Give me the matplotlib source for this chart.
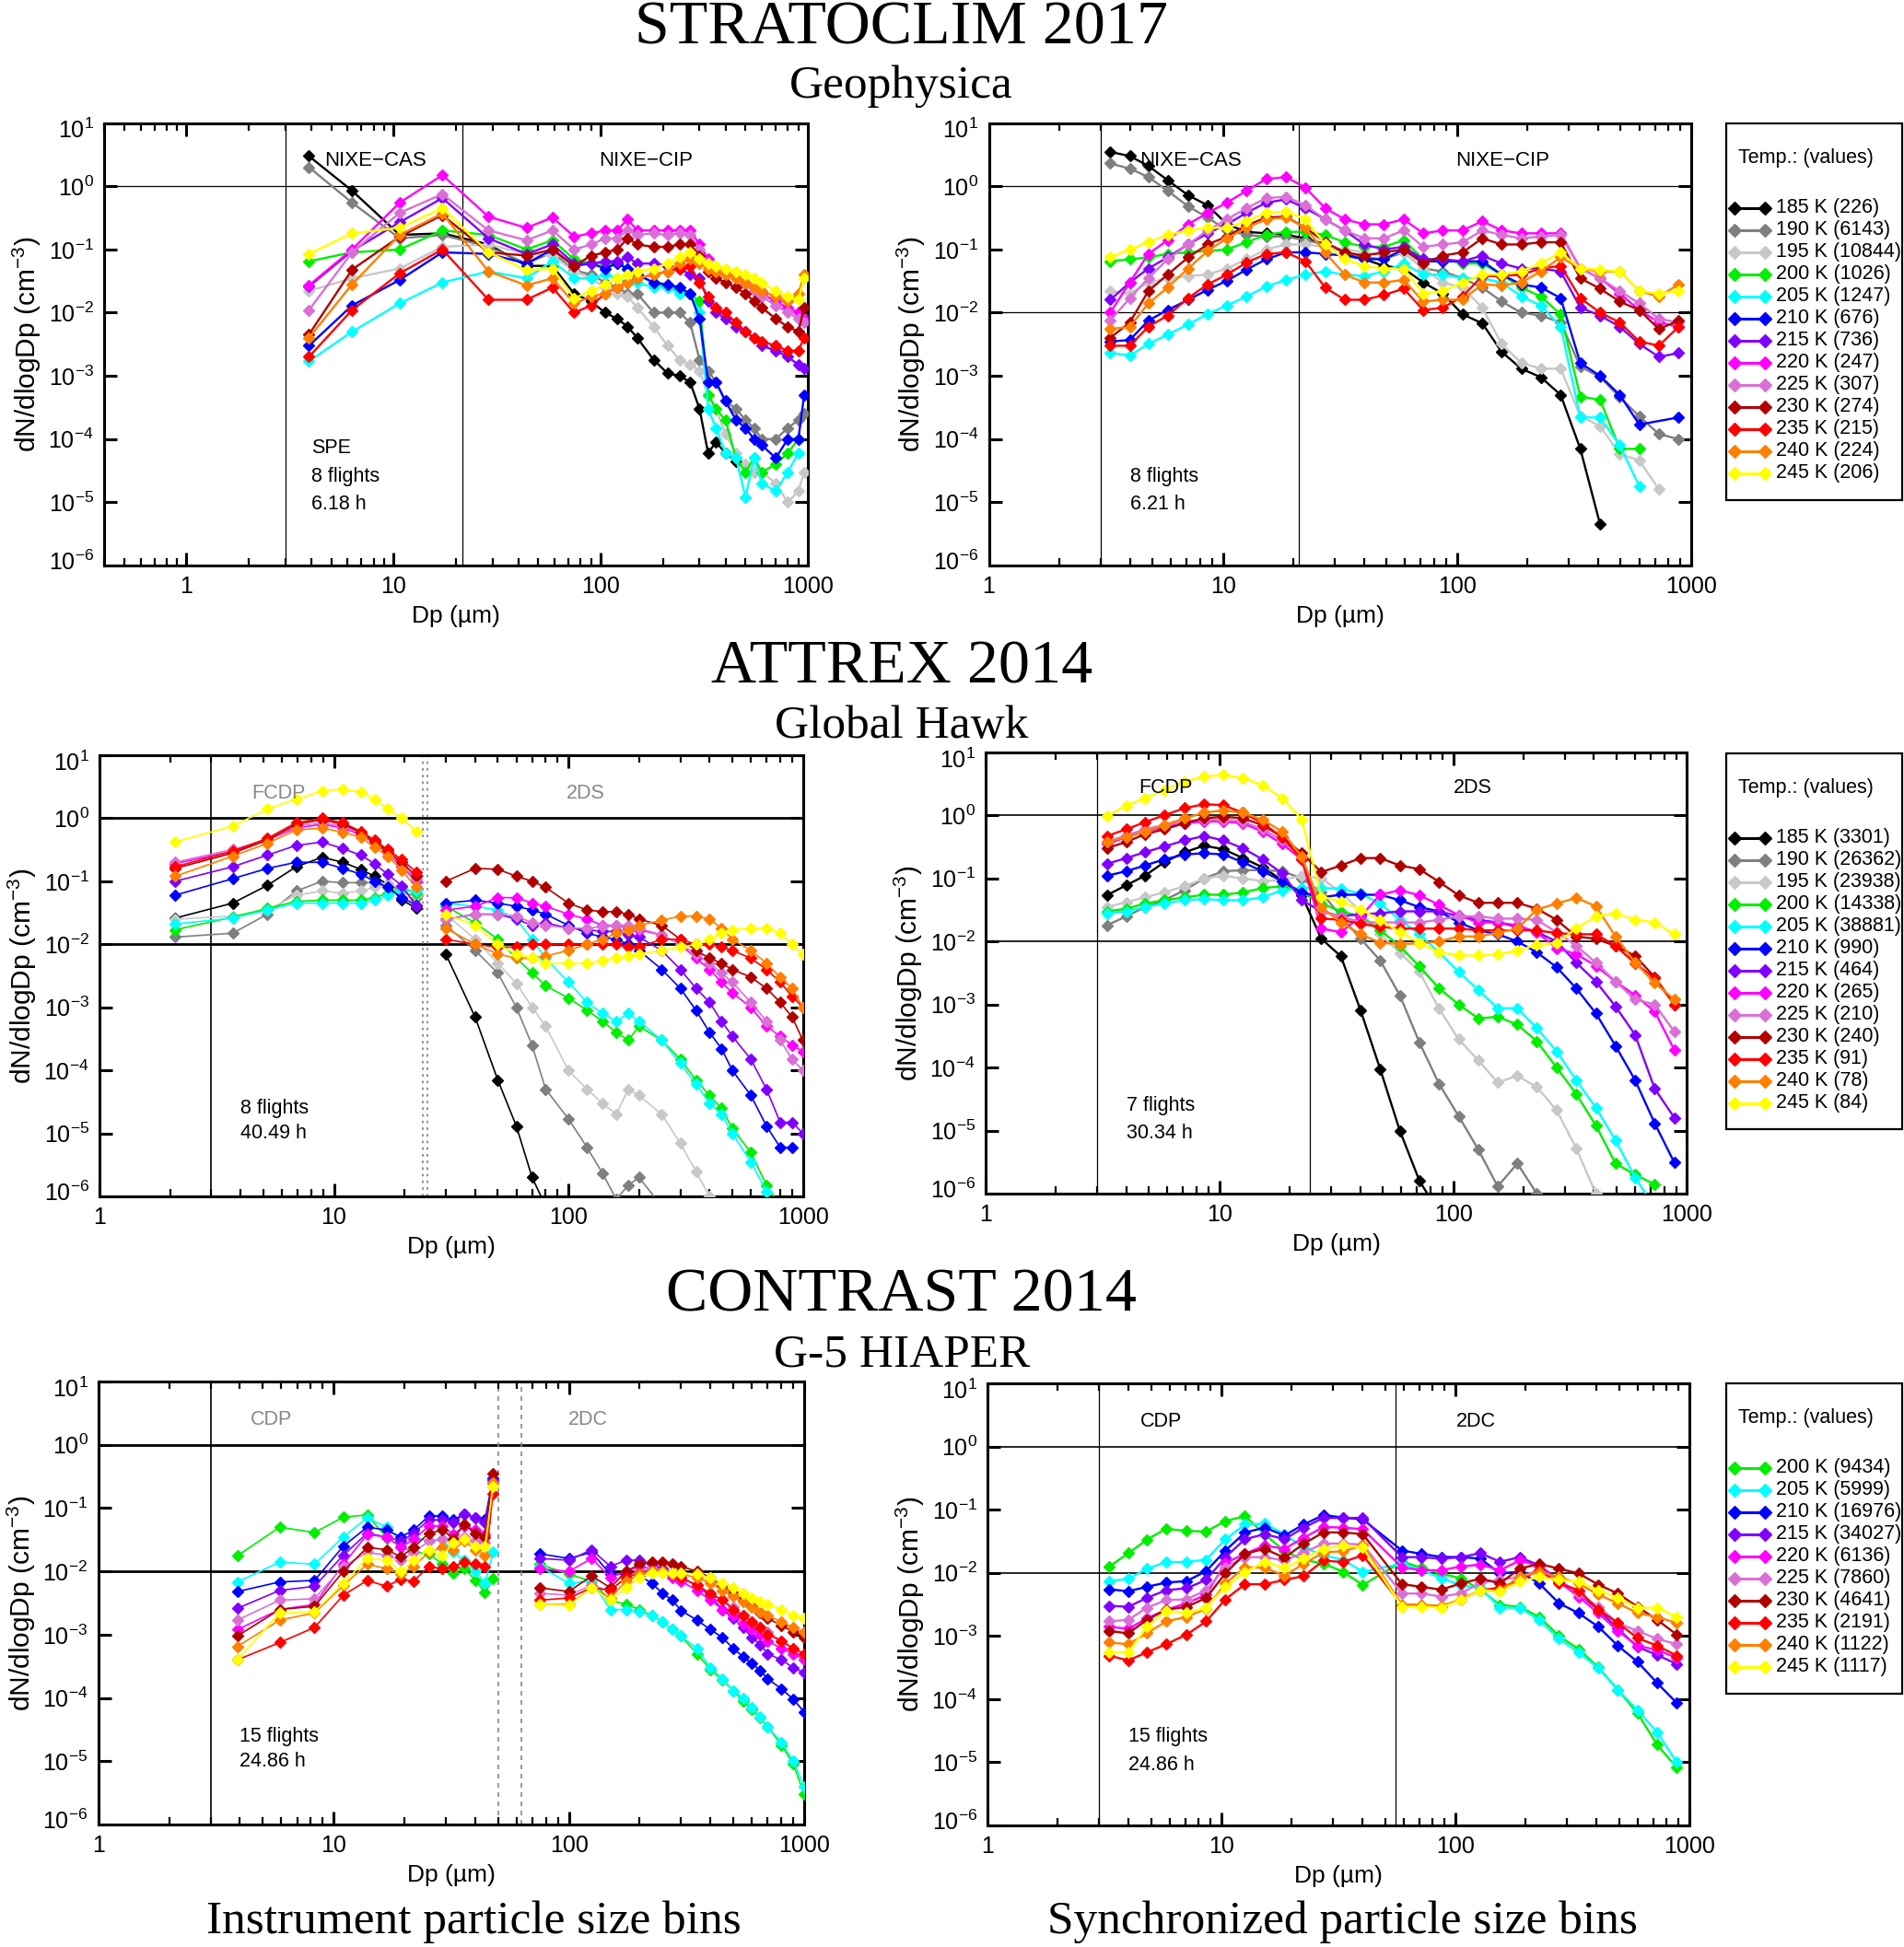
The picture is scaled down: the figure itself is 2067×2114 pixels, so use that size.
import numpy as np
import matplotlib
matplotlib.use("Agg")
import matplotlib.pyplot as plt
from matplotlib.ticker import (FixedLocator, LogLocator, NullLocator, NullFormatter,
                               FuncFormatter, LogFormatterSciNotation)
from matplotlib.patches import Rectangle
from matplotlib.lines import Line2D
from matplotlib.transforms import ScaledTranslation

plt.rcParams["font.family"] = ["Liberation Sans", "DejaVu Sans"]
plt.rcParams["mathtext.fontset"] = "custom"
plt.rcParams["mathtext.rm"] = "Liberation Sans"
plt.rcParams["mathtext.it"] = "Liberation Sans:italic"
plt.rcParams["mathtext.bf"] = "Liberation Sans:bold"

nan = np.nan

# ---------------- common series definitions ----------------
temps13 = [185, 190, 195, 200, 205, 210, 215, 220, 225, 230, 235, 240, 245]
colors13 = ["#000000", "#7f7f7f", "#c8c8c8", "#00ee00", "#00ffff", "#0000ff", "#8000ff",
            "#ff00ff", "#da70d6", "#b00000", "#ff0000", "#ff8000", "#ffff00"]
temps10 = temps13[3:]
colors10 = colors13[3:]

strato_counts = [226, 6143, 10844, 1026, 1247, 676, 736, 247, 307, 274, 215, 224, 206]
attrex_counts = [3301, 26362, 23938, 14338, 38881, 990, 464, 265, 210, 240, 91, 78, 84]
contrast_counts = [9434, 5999, 16976, 34027, 6136, 7860, 4641, 2191, 1122, 1117]

# synchronized size bins (um), shared by the three right-hand panels
sync_bins = [3.3, 4.0, 4.8, 5.8, 7.1, 8.6, 10.4, 12.6, 15.3, 18.6, 22.5, 27.3, 33.1, 40.2,
             48.7, 59.1, 71.7, 87.0, 105.5, 128, 155, 188, 228, 277, 336, 408, 495, 600,
             728, 883]

# ---------------- STRATOCLIM, instrument bins (NIXE-CAS + NIXE-CIP) ----------------
strato_inst_x = [3.9, 6.3, 10.7, 17.2, 28.7, 43.8, 58.5, 74.4, 90, 105, 120, 135, 150, 180,
                 210, 240, 270, 300, 330, 360, 400, 450, 500, 550, 600, 700, 800, 900, 960]
strato_inst_y = [
    [3.0, 0.85, 0.17, 0.18, 0.12, 0.055, 0.055, 0.02, 0.015, 0.01, 0.008, 0.006, 0.004, 0.0018,
     0.0011, 0.001, 0.0008, 0.0003, 6e-5, 9e-5, 6e-5, 4.5e-5, nan, nan, nan, nan, nan, nan, nan],
    [2.0, 0.55, 0.15, 0.17, 0.11, 0.06, 0.09, 0.047, 0.04, 0.03, 0.025, 0.02, 0.02, 0.01, 0.01,
     0.01, 0.007, 0.0018, 0.0012, 0.0008, 0.0004, 0.0003, 0.0002, 0.00015, 0.0001, 0.0001,
     0.00015, 0.0002, 0.00025],
    [0.022, 0.035, 0.05, 0.11, 0.12, 0.085, 0.08, 0.045, 0.035, 0.025, 0.02, 0.018, 0.012, 0.006,
     0.003, 0.0018, 0.0015, 0.0012, 0.0005, 0.0003, 0.00012, 6e-5, 4e-5, 3e-5, 3e-5, 2e-5, 1e-5,
     1.5e-5, 3e-5],
    [0.065, 0.09, 0.1, 0.2, 0.17, 0.1, 0.14, 0.07, 0.06, 0.06, 0.06, 0.05, 0.04, 0.03, 0.025,
     0.022, 0.02, 0.015, 0.0005, 0.0003, 0.0002, 5e-5, 3e-5, 5e-5, 3e-5, 4e-5, 6e-5, 0.0001, nan],
    [0.0017, 0.005, 0.014, 0.03, 0.045, 0.035, 0.065, 0.035, 0.035, 0.04, 0.035, 0.03, 0.03,
     0.025, 0.025, 0.02, 0.02, 0.01, 0.0003, 0.00015, 6e-5, 5e-5, 1.2e-5, 5e-5, 2e-5, 1.5e-5,
     3e-5, 6e-5, nan],
    [0.003, 0.013, 0.033, 0.09, 0.085, 0.06, 0.1, 0.055, 0.06, 0.05, 0.06, 0.05, 0.04, 0.03,
     0.028, 0.025, 0.02, 0.008, 0.0008, 0.0008, 0.0004, 0.0002, 0.00015, 0.0001, 8e-5, 5e-5,
     0.0001, 0.0001, 0.0005],
    [0.026, 0.095, 0.27, 0.65, 0.15, 0.085, 0.12, 0.06, 0.06, 0.065, 0.065, 0.075, 0.06, 0.06,
     0.055, 0.05, 0.04, 0.035, 0.015, 0.01, 0.008, 0.006, 0.005, 0.004, 0.003, 0.0025, 0.002,
     0.0015, 0.0013],
    [0.027, 0.1, 0.55, 1.5, 0.33, 0.22, 0.32, 0.16, 0.18, 0.2, 0.2, 0.3, 0.2, 0.2, 0.2, 0.2, 0.2,
     0.12, 0.07, 0.05, 0.045, 0.04, 0.03, 0.025, 0.02, 0.015, 0.012, 0.01, 0.008],
    [0.011, 0.09, 0.38, 0.75, 0.2, 0.14, 0.2, 0.1, 0.12, 0.15, 0.15, 0.2, 0.17, 0.18, 0.17, 0.18,
     0.17, 0.1, 0.06, 0.045, 0.04, 0.035, 0.028, 0.022, 0.018, 0.013, 0.01, 0.008, 0.007],
    [0.0045, 0.048, 0.16, 0.35, 0.09, 0.08, 0.1, 0.055, 0.08, 0.09, 0.1, 0.15, 0.12, 0.11, 0.11,
     0.12, 0.12, 0.08, 0.045, 0.035, 0.03, 0.025, 0.02, 0.015, 0.012, 0.008, 0.006, 0.005, 0.012],
    [0.002, 0.011, 0.042, 0.1, 0.016, 0.016, 0.025, 0.01, 0.013, 0.02, 0.025, 0.03, 0.035, 0.04,
     0.045, 0.05, 0.055, 0.03, 0.018, 0.012, 0.01, 0.007, 0.005, 0.004, 0.0035, 0.003, 0.0025,
     0.0025, 0.004],
    [0.004, 0.028, 0.17, 0.37, 0.045, 0.027, 0.035, 0.014, 0.018, 0.02, 0.025, 0.03, 0.035, 0.04,
     0.045, 0.06, 0.07, 0.06, 0.05, 0.045, 0.04, 0.035, 0.03, 0.025, 0.022, 0.018, 0.015, 0.02,
     0.04],
    [0.085, 0.18, 0.22, 0.45, 0.09, 0.047, 0.05, 0.017, 0.022, 0.028, 0.035, 0.04, 0.045, 0.05,
     0.06, 0.075, 0.09, 0.07, 0.06, 0.055, 0.05, 0.045, 0.04, 0.035, 0.03, 0.022, 0.018, 0.016,
     0.035],
]

# ---------------- STRATOCLIM, synchronized bins ----------------
strato_sync_y = [
    [3.5, 3.0, 2.1, 1.25, 0.72, 0.5, 0.25, 0.19, 0.18, 0.17, 0.15, 0.12, 0.09, 0.07, 0.055, 0.05,
     0.03, 0.02, 0.0094, 0.0068, 0.0024, 0.0013, 0.00095, 0.0005, 7e-5, 4.5e-6, nan, nan, nan, nan],
    [2.3, 1.9, 1.4, 0.85, 0.48, 0.32, 0.2, 0.17, 0.16, 0.16, 0.14, 0.12, 0.09, 0.075, 0.07, 0.09,
     0.05, 0.045, 0.035, 0.025, 0.015, 0.01, 0.009, 0.007, 0.0014, 0.00096, 0.00046, 0.00023,
     0.00012, 0.0001],
    [0.022, 0.02, 0.03, 0.035, 0.038, 0.04, 0.05, 0.07, 0.1, 0.12, 0.12, 0.11, 0.1, 0.09, 0.08,
     0.09, 0.05, 0.03, 0.025, 0.012, 0.0032, 0.0016, 0.0013, 0.0013, 0.00023, 0.00016, 5.8e-5,
     4.6e-5, 1.6e-5, nan],
    [0.065, 0.07, 0.075, 0.085, 0.09, 0.095, 0.1, 0.13, 0.17, 0.19, 0.19, 0.17, 0.13, 0.11, 0.11,
     0.14, 0.07, 0.07, 0.06, 0.06, 0.04, 0.025, 0.018, 0.0094, 0.00047, 0.00042, 7e-5, 7e-5, nan,
     nan],
    [0.0023, 0.0021, 0.0032, 0.0045, 0.0065, 0.0095, 0.013, 0.018, 0.026, 0.033, 0.04, 0.045,
     0.04, 0.038, 0.045, 0.06, 0.04, 0.04, 0.035, 0.035, 0.03, 0.018, 0.013, 0.006, 0.00022,
     0.00022, 8e-5, 1.8e-5, nan, nan],
    [0.0035, 0.0037, 0.0075, 0.011, 0.016, 0.023, 0.032, 0.048, 0.07, 0.09, 0.09, 0.085, 0.08,
     0.07, 0.07, 0.1, 0.065, 0.065, 0.065, 0.065, 0.04, 0.028, 0.025, 0.017, 0.0016, 0.001,
     0.0005, 0.00017, nan, 0.00022],
    [0.016, 0.03, 0.05, 0.075, 0.12, 0.18, 0.25, 0.38, 0.55, 0.62, 0.45, 0.3, 0.2, 0.12, 0.1,
     0.11, 0.07, 0.07, 0.065, 0.08, 0.06, 0.05, 0.05, 0.045, 0.012, 0.009, 0.006, 0.0032, 0.002,
     0.0023],
    [0.01, 0.03, 0.085, 0.14, 0.25, 0.38, 0.55, 0.85, 1.3, 1.4, 0.95, 0.45, 0.3, 0.25, 0.25, 0.3,
     0.18, 0.2, 0.2, 0.28, 0.2, 0.18, 0.18, 0.18, 0.05, 0.035, 0.02, 0.011, 0.007, 0.006],
    [0.0075, 0.017, 0.035, 0.07, 0.12, 0.2, 0.3, 0.45, 0.65, 0.68, 0.5, 0.3, 0.2, 0.15, 0.15,
     0.2, 0.11, 0.12, 0.13, 0.2, 0.17, 0.15, 0.16, 0.17, 0.05, 0.035, 0.022, 0.014, 0.008, 0.007],
    [0.004, 0.007, 0.022, 0.04, 0.075, 0.12, 0.16, 0.24, 0.32, 0.33, 0.22, 0.13, 0.09, 0.08, 0.09,
     0.1, 0.06, 0.08, 0.09, 0.15, 0.12, 0.12, 0.13, 0.13, 0.035, 0.024, 0.015, 0.011, 0.0055,
     0.0075],
    [0.003, 0.003, 0.006, 0.009, 0.017, 0.028, 0.04, 0.062, 0.085, 0.09, 0.065, 0.025, 0.016,
     0.016, 0.019, 0.024, 0.011, 0.012, 0.018, 0.038, 0.038, 0.04, 0.05, 0.055, 0.017, 0.01,
     0.007, 0.0035, 0.003, 0.006],
    [0.0055, 0.006, 0.014, 0.025, 0.05, 0.095, 0.15, 0.22, 0.3, 0.32, 0.22, 0.09, 0.04, 0.03,
     0.03, 0.033, 0.015, 0.016, 0.016, 0.028, 0.027, 0.03, 0.045, 0.075, 0.05, 0.045, 0.045,
     0.022, 0.018, 0.028],
    [0.075, 0.1, 0.13, 0.17, 0.2, 0.22, 0.22, 0.28, 0.38, 0.4, 0.3, 0.12, 0.07, 0.055, 0.05, 0.05,
     0.02, 0.022, 0.03, 0.04, 0.04, 0.045, 0.06, 0.09, 0.05, 0.048, 0.045, 0.022, 0.02, 0.022],
]

# ---------------- ATTREX, instrument bins (FCDP + 2DS) ----------------
attrex_fcdp_x = [2.1, 3.7, 5.2, 6.9, 8.9, 10.9, 13.0, 14.9, 16.9, 19.5, 22.4]
attrex_2ds_x = [30, 40, 50, 60, 70, 80, 100, 120, 140, 160, 180, 200, 250, 300, 350, 400, 450,
                500, 600, 700, 800, 900, 1000]
attrex_fcdp_y = [
    [0.026, 0.045, 0.086, 0.17, 0.24, 0.2, 0.155, 0.12, 0.09, 0.05, 0.038],
    [0.013, 0.015, 0.03, 0.07, 0.1, 0.095, 0.095, 0.095, 0.09, 0.07, 0.055],
    [0.025, 0.028, 0.035, 0.06, 0.07, 0.065, 0.07, 0.08, 0.09, 0.08, 0.06],
    [0.017, 0.027, 0.037, 0.048, 0.05, 0.05, 0.05, 0.055, 0.065, 0.08, 0.065],
    [0.021, 0.026, 0.035, 0.045, 0.045, 0.045, 0.045, 0.05, 0.06, 0.07, 0.07],
    [0.06, 0.11, 0.16, 0.2, 0.2, 0.16, 0.13, 0.1, 0.08, 0.055, 0.042],
    [0.1, 0.17, 0.26, 0.37, 0.42, 0.33, 0.26, 0.19, 0.13, 0.085, 0.04],
    [0.19, 0.3, 0.45, 0.7, 0.8, 0.7, 0.55, 0.4, 0.28, 0.17, 0.1],
    [0.2, 0.32, 0.45, 0.75, 0.85, 0.75, 0.58, 0.42, 0.3, 0.18, 0.11],
    [0.16, 0.28, 0.45, 0.8, 0.95, 0.8, 0.6, 0.42, 0.3, 0.2, 0.12],
    [0.17, 0.3, 0.48, 0.85, 1.0, 0.85, 0.62, 0.45, 0.32, 0.22, 0.14],
    [0.12, 0.25, 0.4, 0.65, 0.7, 0.6, 0.5, 0.35, 0.25, 0.15, 0.08],
    [0.42, 0.75, 1.4, 2.0, 2.7, 2.9, 2.6, 2.0, 1.4, 1.0, 0.62],
]
attrex_2ds_y = [
    [0.007, 0.0007, 7e-5, 1.3e-5, 2e-6, 7e-7] + [nan] * 17,
    [0.02, 0.008, 0.0035, 0.001, 0.00025, 5e-5, 1.7e-5, 6e-6, 2.3e-6, 9e-7, 1.5e-6, 2e-6, 7e-7]
    + [nan] * 10,
    [0.03, 0.012, 0.005, 0.0024, 0.001, 0.0005, 0.0001, 5e-5, 3e-5, 2e-5, 5e-5, 4e-5, 2e-5, 7e-6,
     2.5e-6, 1e-6] + [nan] * 7,
    [0.04, 0.022, 0.012, 0.006, 0.0035, 0.0022, 0.0014, 0.0009, 0.0006, 0.0004, 0.0003, 0.0005,
     0.0003, 0.00015, 7e-5, 4e-5, 2.5e-5, 1.2e-5, 5e-6, 1.5e-6, 7e-7, nan, nan],
    [0.045, 0.04, 0.035, 0.025, 0.012, 0.006, 0.0025, 0.0012, 0.0008, 0.0006, 0.0008, 0.0006,
     0.0003, 0.00013, 6e-5, 3e-5, 2e-5, 1e-5, 3.5e-6, 1.2e-6, nan, nan, nan],
    [0.045, 0.05, 0.045, 0.04, 0.035, 0.03, 0.02, 0.015, 0.013, 0.012, 0.01, 0.008, 0.004, 0.002,
     0.0009, 0.0004, 0.00022, 0.0001, 4e-5, 1.3e-5, 6e-6, 6e-6, nan],
    [0.025, 0.03, 0.03, 0.025, 0.02, 0.022, 0.018, 0.017, 0.016, 0.016, 0.014, 0.013, 0.008,
     0.004, 0.002, 0.0012, 0.0006, 0.00035, 0.00015, 5e-5, 1.5e-5, 1.5e-5, 1e-5],
    [0.035, 0.04, 0.055, 0.055, 0.045, 0.04, 0.03, 0.025, 0.02, 0.02, 0.018, 0.017, 0.014, 0.01,
     0.006, 0.004, 0.0025, 0.0017, 0.001, 0.0005, 0.00035, 0.00025, 0.0002],
    [0.025, 0.03, 0.03, 0.028, 0.022, 0.02, 0.018, 0.018, 0.019, 0.02, 0.02, 0.018, 0.014, 0.01,
     0.007, 0.005, 0.0035, 0.0025, 0.0012, 0.0006, 0.0003, 0.00015, 0.0001],
    [0.1, 0.16, 0.155, 0.12, 0.1, 0.08, 0.045, 0.035, 0.033, 0.033, 0.03, 0.025, 0.02, 0.012,
     0.008, 0.006, 0.005, 0.004, 0.003, 0.002, 0.0012, 0.0007, 0.0003],
    [0.012, 0.01, 0.009, 0.009, 0.01, 0.01, 0.01, 0.01, 0.01, 0.01, 0.009, 0.009, 0.012, 0.012,
     0.01, 0.01, 0.009, 0.008, 0.006, 0.004, 0.0025, 0.0015, 0.001],
    [0.018, 0.01, 0.007, 0.006, 0.006, 0.0065, 0.008, 0.01, 0.012, 0.015, 0.017, 0.02, 0.024,
     0.028, 0.028, 0.025, 0.018, 0.012, 0.008, 0.005, 0.003, 0.002, 0.001],
    [0.03, 0.02, 0.01, 0.007, 0.006, 0.005, 0.005, 0.005, 0.0055, 0.006, 0.0065, 0.007, 0.008,
     0.009, 0.01, 0.012, 0.015, 0.017, 0.018, 0.018, 0.015, 0.01, 0.007],
]

# ---------------- ATTREX, synchronized bins ----------------
attrex_sync_y = [
    [0.054, 0.078, 0.11, 0.18, 0.26, 0.33, 0.29, 0.21, 0.15, 0.093, 0.054, 0.011, 0.0058, 0.0008,
     9.5e-5, 1e-5, 1.6e-6, 5e-7] + [nan] * 12,
    [0.018, 0.025, 0.035, 0.045, 0.065, 0.1, 0.13, 0.135, 0.135, 0.13, 0.1, 0.06, 0.025, 0.011,
     0.005, 0.0014, 0.00025, 5.5e-5, 1.7e-5, 5e-6, 1.3e-6, 3e-6, 1e-6] + [nan] * 7,
    [0.035, 0.042, 0.05, 0.06, 0.075, 0.1, 0.11, 0.1, 0.09, 0.095, 0.11, 0.1, 0.06, 0.03, 0.013,
     0.0066, 0.0033, 0.00086, 0.00028, 0.00013, 5.8e-5, 7.4e-5, 4.9e-5, 2.1e-5, 5.2e-6, 1e-6]
    + [nan] * 4,
    [0.03, 0.033, 0.04, 0.045, 0.05, 0.055, 0.055, 0.06, 0.07, 0.075, 0.06, 0.04, 0.03, 0.025,
     0.015, 0.0085, 0.004, 0.0018, 0.001, 0.0006, 0.00064, 0.00048, 0.00026, 0.0001, 3.8e-5,
     1.2e-5, 3e-6, 2e-6, 1.4e-6, nan],
    [0.028, 0.03, 0.035, 0.04, 0.045, 0.047, 0.045, 0.045, 0.05, 0.065, 0.07, 0.07, 0.069, 0.057,
     0.04, 0.022, 0.013, 0.0067, 0.0033, 0.0017, 0.00087, 0.00087, 0.00042, 0.00018, 6.3e-5,
     2.3e-5, 7e-6, 1.8e-6, 6e-7, nan],
    [0.11, 0.13, 0.16, 0.2, 0.24, 0.25, 0.24, 0.18, 0.13, 0.09, 0.06, 0.05, 0.055, 0.055, 0.055,
     0.045, 0.035, 0.03, 0.02, 0.015, 0.013, 0.01, 0.0067, 0.0039, 0.0018, 0.00072, 0.00022,
     6.3e-5, 1.3e-5, 3.1e-6],
    [0.17, 0.21, 0.26, 0.32, 0.4, 0.47, 0.4, 0.3, 0.2, 0.12, 0.045, 0.03, 0.025, 0.027, 0.028,
     0.03, 0.03, 0.03, 0.025, 0.022, 0.02, 0.017, 0.014, 0.01, 0.0046, 0.0023, 0.00093, 0.00033,
     4.6e-5, 1.6e-5],
    [0.35, 0.45, 0.55, 0.65, 0.75, 0.8, 0.8, 0.75, 0.55, 0.35, 0.2, 0.016, 0.014, 0.025, 0.055,
     0.065, 0.054, 0.038, 0.026, 0.02, 0.02, 0.018, 0.014, 0.0078, 0.0063, 0.0041, 0.0023,
     0.0014, 0.00077, 0.00019],
    [0.38, 0.48, 0.6, 0.7, 0.8, 0.85, 0.85, 0.8, 0.6, 0.4, 0.22, 0.03, 0.025, 0.02, 0.02, 0.02,
     0.02, 0.022, 0.025, 0.025, 0.023, 0.023, 0.022, 0.014, 0.0085, 0.0046, 0.0023, 0.0012,
     0.001, 0.00037],
    [0.3, 0.38, 0.5, 0.6, 0.75, 0.9, 0.95, 0.9, 0.7, 0.45, 0.25, 0.126, 0.16, 0.21, 0.21, 0.16,
     0.14, 0.088, 0.054, 0.041, 0.041, 0.041, 0.033, 0.022, 0.012, 0.011, 0.0085, 0.0059, 0.0027,
     0.001],
    [0.47, 0.6, 0.78, 1.0, 1.3, 1.5, 1.45, 1.1, 0.75, 0.45, 0.2, 0.023, 0.022, 0.019, 0.017,
     0.016, 0.016, 0.016, 0.016, 0.015, 0.015, 0.015, 0.015, 0.0135, 0.013, 0.013, 0.0085,
     0.0045, 0.0026, 0.001],
    [0.38, 0.45, 0.55, 0.7, 0.9, 1.1, 1.2, 1.1, 0.85, 0.55, 0.22, 0.035, 0.02, 0.013, 0.0095,
     0.0091, 0.0093, 0.01, 0.012, 0.012, 0.0137, 0.016, 0.032, 0.04, 0.049, 0.036, 0.012, 0.0046,
     0.0022, 0.0012],
    [0.96, 1.43, 1.87, 2.5, 3.4, 4.1, 4.4, 3.9, 3.0, 1.87, 0.86, 0.051, 0.043, 0.032, 0.022,
     0.014, 0.0095, 0.0067, 0.006, 0.006, 0.0062, 0.0071, 0.0088, 0.0095, 0.016, 0.025, 0.028,
     0.022, 0.02, 0.013],
]

# ---------------- CONTRAST, instrument bins (CDP + 2DC) ----------------
contrast_cdp_x = [3.9, 5.9, 8.3, 11.0, 13.9, 16.8, 19.3, 21.9, 25.4, 29.0, 32.3, 35.9, 40.2,
                  44.0, 47.6]
contrast_2dc_x = [75, 100, 125, 150, 175, 200, 225, 250, 275, 300, 350, 400, 450, 500, 550, 600,
                  650, 700, 800, 900, 1000]
contrast_cdp_y = [
    [0.0176, 0.05, 0.041, 0.072, 0.078, 0.034, 0.025, 0.02, 0.019, 0.013, 0.0095, 0.011, 0.0072,
     0.0046, 0.0076],
    [0.0068, 0.014, 0.013, 0.035, 0.07, 0.05, 0.03, 0.035, 0.03, 0.032, 0.02, 0.015, 0.01,
     0.0065, 0.02],
    [0.0048, 0.0068, 0.0072, 0.025, 0.05, 0.045, 0.035, 0.045, 0.075, 0.075, 0.065, 0.08, 0.07,
     0.065, 0.3],
    [0.0026, 0.005, 0.0058, 0.018, 0.04, 0.035, 0.03, 0.04, 0.065, 0.065, 0.06, 0.08, 0.07, 0.06,
     0.28],
    [0.0012, 0.0025, 0.003, 0.013, 0.038, 0.035, 0.024, 0.032, 0.052, 0.052, 0.038, 0.052, 0.045,
     0.038, 0.25],
    [0.0017, 0.0035, 0.0037, 0.012, 0.02, 0.018, 0.015, 0.02, 0.03, 0.032, 0.03, 0.035, 0.03,
     0.028, 0.22],
    [0.00095, 0.0025, 0.0028, 0.01, 0.024, 0.022, 0.017, 0.024, 0.04, 0.045, 0.033, 0.055, 0.04,
     0.035, 0.35],
    [0.0004, 0.00075, 0.0013, 0.0042, 0.0072, 0.0058, 0.0075, 0.007, 0.012, 0.011, 0.012, 0.014,
     0.013, 0.012, 0.17],
    [0.00065, 0.0017, 0.0022, 0.006, 0.013, 0.011, 0.009, 0.012, 0.02, 0.024, 0.022, 0.03, 0.022,
     0.018, 0.25],
    [0.0004, 0.0022, 0.0023, 0.0065, 0.016, 0.015, 0.01, 0.015, 0.022, 0.018, 0.028, 0.032,
     0.025, 0.025, 0.22],
]
contrast_2dc_y = [
    [0.013, 0.009, 0.007, 0.0035, 0.003, 0.0025, 0.002, 0.0016, 0.0012, 0.00095, 0.0005, 0.00028,
     0.00019, 0.00013, 9e-5, 6.5e-5, 4.8e-5, 3.5e-5, 1.8e-5, 9e-6, 3e-6],
    [0.012, 0.0065, 0.007, 0.0025, 0.0025, 0.0023, 0.002, 0.0016, 0.0012, 0.00095, 0.0006,
     0.0003, 0.0002, 0.00013, 0.0001, 7e-5, 5e-5, 3.5e-5, 2e-5, 1e-5, 4e-6],
    [0.019, 0.016, 0.02, 0.009, 0.009, 0.0085, 0.0065, 0.0045, 0.0035, 0.0024, 0.0017, 0.0012,
     0.0009, 0.0006, 0.00045, 0.00035, 0.00027, 0.0002, 0.00014, 9.5e-5, 6e-5],
    [0.016, 0.015, 0.022, 0.012, 0.015, 0.015, 0.013, 0.011, 0.009, 0.008, 0.006, 0.004, 0.0025,
     0.0018, 0.0013, 0.0009, 0.0007, 0.0005, 0.0004, 0.0003, 0.00025],
    [0.011, 0.01, 0.016, 0.008, 0.01, 0.012, 0.011, 0.01, 0.008, 0.007, 0.005, 0.0035, 0.0025,
     0.002, 0.0015, 0.0012, 0.001, 0.0008, 0.0006, 0.0005, 0.0004],
    [0.0045, 0.0042, 0.006, 0.005, 0.008, 0.01, 0.011, 0.01, 0.009, 0.008, 0.006, 0.0045, 0.0035,
     0.0027, 0.002, 0.0016, 0.0013, 0.0011, 0.0008, 0.0006, 0.0005],
    [0.0055, 0.0048, 0.0085, 0.0055, 0.01, 0.013, 0.014, 0.014, 0.013, 0.012, 0.01, 0.008, 0.006,
     0.0045, 0.0035, 0.0028, 0.0022, 0.0018, 0.0014, 0.0011, 0.0009],
    [0.0035, 0.0038, 0.0055, 0.005, 0.008, 0.0095, 0.01, 0.01, 0.009, 0.008, 0.006, 0.0045,
     0.0035, 0.0025, 0.002, 0.0016, 0.0013, 0.001, 0.0008, 0.0006, 0.0005],
    [0.003, 0.003, 0.0055, 0.0038, 0.007, 0.009, 0.01, 0.01, 0.0095, 0.009, 0.008, 0.0065, 0.005,
     0.004, 0.0033, 0.0027, 0.0023, 0.002, 0.0016, 0.0013, 0.0011],
    [0.003, 0.0029, 0.0055, 0.0035, 0.0055, 0.008, 0.0095, 0.0095, 0.0095, 0.0095, 0.009, 0.008,
     0.0065, 0.0055, 0.0045, 0.0038, 0.0033, 0.003, 0.0025, 0.002, 0.0018],
]

# ---------------- CONTRAST, synchronized bins ----------------
contrast_sync_y = [
    [0.0124, 0.0204, 0.0334, 0.05, 0.046, 0.045, 0.066, 0.079, 0.041, 0.022, 0.016, 0.014,
     0.0104, 0.0064, nan, 0.015, 0.012, 0.0097, 0.0082, 0.0054, 0.0031, 0.0029, 0.002, 0.001,
     0.00062, 0.00032, 0.00014, 6e-5, 1.9e-5, 8.2e-6],
    [0.0074, 0.008, 0.0116, 0.0148, 0.0148, 0.0161, 0.034, 0.058, 0.06, 0.041, 0.025, 0.019,
     0.016, 0.0104, nan, 0.014, 0.011, 0.0082, 0.0064, 0.0057, 0.0028, 0.0028, 0.0018, 0.0009,
     0.00055, 0.00031, 0.00014, 6.7e-5, 3e-5, 1e-5],
    [0.0055, 0.0051, 0.006, 0.007, 0.0074, 0.0106, 0.0225, 0.0434, 0.052, 0.039, 0.0585, 0.082,
     0.075, 0.07, nan, 0.0225, 0.02, 0.0178, 0.0178, 0.0167, 0.0098, 0.0104, 0.0068, 0.0033,
     0.0023, 0.0014, 0.0007, 0.00039, 0.00018, 8.7e-5],
    [0.003, 0.0029, 0.004, 0.0053, 0.0057, 0.0077, 0.0177, 0.034, 0.041, 0.034, 0.052, 0.074,
     0.074, 0.074, nan, 0.0177, 0.0177, 0.0167, 0.0177, 0.0205, 0.0149, 0.0177, 0.0131, 0.0077,
     0.0047, 0.0026, 0.0013, 0.00067, 0.0005, 0.00036],
    [0.0014, 0.0013, 0.0019, 0.0026, 0.0033, 0.0045, 0.0143, 0.02, 0.027, 0.024, 0.036, 0.053,
     0.052, 0.049, nan, 0.0122, 0.011, 0.011, 0.0126, 0.0135, 0.011, 0.0156, 0.013, 0.0072,
     0.0042, 0.0023, 0.0012, 0.0007, 0.0006, 0.00045],
    [0.0017, 0.0018, 0.0028, 0.0037, 0.0038, 0.0053, 0.0123, 0.0177, 0.0177, 0.0156, 0.021,
     0.029, 0.029, 0.028, nan, 0.0047, 0.0047, 0.0042, 0.0047, 0.007, 0.0077, 0.0086, 0.011,
     0.0077, 0.0047, 0.0029, 0.0016, 0.0012, 0.0009, 0.00074],
    [0.0012, 0.0011, 0.0018, 0.0026, 0.0029, 0.004, 0.0098, 0.02, 0.024, 0.0173, 0.029, 0.0436,
     0.0436, 0.041, nan, 0.0066, 0.006, 0.0054, 0.0068, 0.0081, 0.0068, 0.0116, 0.0139, 0.0116,
     0.0098, 0.0065, 0.0047, 0.0029, 0.0018, 0.00105],
    [0.00049, 0.00041, 0.00055, 0.00074, 0.00105, 0.0017, 0.0038, 0.0066, 0.0066, 0.0077,
     0.0089, 0.0156, 0.0148, 0.019, nan, 0.0031, 0.0031, 0.0029, 0.0038, 0.0053, 0.0058, 0.0077,
     0.011, 0.0068, 0.0053, 0.0026, 0.0016, 0.00093, 0.0007, 0.00049],
    [0.00079, 0.00074, 0.0011, 0.0017, 0.002, 0.0027, 0.0068, 0.0123, 0.012, 0.009, 0.0139,
     0.021, 0.022, 0.027, nan, 0.0031, 0.0031, 0.003, 0.0037, 0.0053, 0.0053, 0.0086, 0.0103,
     0.0086, 0.0068, 0.0045, 0.0033, 0.0023, 0.002, 0.0016],
    [0.00055, 0.00055, 0.0014, 0.0025, 0.0023, 0.0028, 0.006, 0.0103, 0.0148, 0.012, 0.0167,
     0.024, 0.027, 0.025, nan, 0.0029, 0.0029, 0.0028, 0.0037, 0.0053, 0.005, 0.0072, 0.0086,
     0.0077, 0.0072, 0.0053, 0.004, 0.0028, 0.0028, 0.002],
]

# ======================================================================
W, H = 2067, 2114
fig = plt.figure(figsize=(W / 100, H / 100), dpi=100)


def px_axes(left, right, top, bottom):
    return fig.add_axes([left / W, 1 - bottom / H, (right - left) / W, (bottom - top) / H])


def style(ax, xlim):
    ax.set_xscale("log")
    ax.set_yscale("log")
    ax.set_xlim(*xlim)
    ax.set_ylim(1e-6, 10)
    ax.xaxis.set_major_locator(FixedLocator([1, 10, 100, 1000]))
    ax.xaxis.set_minor_locator(LogLocator(base=10, subs=np.arange(2, 10), numticks=30))
    ax.xaxis.set_major_formatter(FuncFormatter(lambda v, p: "%g" % v))
    ax.xaxis.set_minor_formatter(NullFormatter())
    ax.yaxis.set_major_locator(FixedLocator([10.0 ** k for k in range(-6, 2)]))
    ax.yaxis.set_minor_locator(NullLocator())
    ax.yaxis.set_major_formatter(LogFormatterSciNotation())
    ax.tick_params(which="both", direction="in", top=True, right=True)
    ax.tick_params(which="major", length=10, width=2.2, labelsize=18, pad=8)
    ax.tick_params(which="minor", length=6, width=1.6)
    for s in ax.spines.values():
        s.set_linewidth(2.2)
    ax.set_xlabel("Dp (\u00b5m)", fontsize=19, labelpad=6)
    ax.set_ylabel("dN/dlogDp (cm$^{-3}$)", fontsize=21.5, labelpad=4)
    # end labels sit slightly inside the frame, as in the original figure
    labs = ax.get_yticklabels()
    labs[0].set_transform(labs[0].get_transform()
                          + ScaledTranslation(0, 6 / 100, fig.dpi_scale_trans))
    labs[-1].set_transform(labs[-1].get_transform()
                           + ScaledTranslation(0, -6 / 100, fig.dpi_scale_trans))


def series(ax, x, y, color, lw, ms):
    x = np.asarray(x, float)
    y = np.asarray(y, float)
    m = np.isfinite(y)
    ax.plot(x[m], y[m], color=color, lw=lw, marker="D", ms=ms, mec=color, mfc=color,
            clip_on=True, zorder=3)


def notes(ax, lines, ys):
    for t, yy in zip(lines, ys):
        ax.text(4.0, yy, t, fontsize=15.5, ha="left", va="center")


def legend_box(top, bottom, temps, counts, colors):
    x0, x1 = 1874, 2065
    fig.add_artist(Rectangle((x0 / W, 1 - bottom / H), (x1 - x0) / W, (bottom - top) / H,
                             transform=fig.transFigure, fill=False, ec="black", lw=1.6))
    fig.text(1887 / W, 1 - (top + 38) / H, "Temp.: (values)", fontsize=15.5, va="center",
             ha="left")
    for i, (t, n, c) in enumerate(zip(temps, counts, colors)):
        yy = 1 - (top + 92 + 24 * i) / H
        fig.add_artist(Line2D([1883 / W, 1916 / W], [yy, yy], transform=fig.transFigure,
                              color=c, lw=2.2, marker="D", ms=7, mec=c, mfc=c))
        fig.text(1928 / W, yy, "%d K (%d)" % (t, n), fontsize=15.5, va="center", ha="left")


LW_SYNC, MS_SYNC = 1.7, 6.5
LW_INST, MS_INST = 1.2, 6.3

# ---------------- Row 1: STRATOCLIM ----------------
ax = px_axes(113, 877, 133.6, 614)
style(ax, (0.4, 1000))
ax.axhline(1.0, color="black", lw=0.9, zorder=1)
for xv in (3.0, 21.4):
    ax.axvline(xv, color="black", lw=0.9, zorder=1)
for y, c in zip(strato_inst_y, colors13):
    series(ax, strato_inst_x, y, c, LW_SYNC, MS_SYNC)
ax.text(8.2, 2.5, "NIXE\u2212CAS", fontsize=16, ha="center", va="center", zorder=5)
ax.text(165, 2.5, "NIXE\u2212CIP", fontsize=16, ha="center", va="center")
notes(ax, ["SPE", "8 flights", "6.18 h"], [10 ** -4.14, 10 ** -4.59, 10 ** -5.03])

ax = px_axes(1073.5, 1836, 133.6, 614)
style(ax, (1, 1000))
ax.axhline(1.0, color="black", lw=0.9, zorder=1)
ax.axhline(0.01, color="black", lw=0.9, zorder=1)
for xv in (3.0, 21.0):
    ax.axvline(xv, color="black", lw=0.9, zorder=1)
for y, c in zip(strato_sync_y, colors13):
    series(ax, sync_bins, y, c, LW_SYNC, MS_SYNC)
ax.text(7.3, 2.5, "NIXE\u2212CAS", fontsize=16, ha="center", va="center", zorder=5)
ax.text(157, 2.5, "NIXE\u2212CIP", fontsize=16, ha="center", va="center")
notes(ax, ["8 flights", "6.21 h"], [10 ** -4.59, 10 ** -5.03])
legend_box(133.6, 543, temps13, strato_counts, colors13)

# ---------------- Row 2: ATTREX ----------------
ax = px_axes(108, 871.6, 820, 1299)
style(ax, (1, 1000))
ax.axhline(1.0, color="black", lw=2.0, zorder=1)
ax.axhline(0.01, color="black", lw=2.0, zorder=1)
ax.axvline(3.0, color="black", lw=1.2, zorder=1)
for xv in (24.0, 25.0):
    ax.axvline(xv, color="#888888", lw=1.3, ls=(0, (1.5, 2.5)), zorder=1)
for yf, y2, c in zip(attrex_fcdp_y, attrex_2ds_y, colors13):
    series(ax, attrex_fcdp_x, yf, c, LW_INST, MS_INST)
    series(ax, attrex_2ds_x, y2, c, LW_INST, MS_INST)
ax.text(5.8, 2.5, "FCDP", fontsize=15.5, ha="center", va="center", color="#888888", zorder=5)
ax.text(119, 2.5, "2DS", fontsize=15.5, ha="center", va="center", color="#888888")
notes(ax, ["8 flights", "40.49 h"], [10 ** -4.6, 10 ** -5.0])

ax = px_axes(1070, 1831.4, 816.8, 1296)
style(ax, (1, 1000))
ax.axhline(1.0, color="black", lw=1.2, zorder=1)
ax.axhline(0.01, color="black", lw=1.2, zorder=1)
for xv in (3.0, 24.4):
    ax.axvline(xv, color="black", lw=0.9, zorder=1)
for y, c in zip(attrex_sync_y, colors13):
    series(ax, sync_bins, y, c, LW_SYNC, MS_SYNC)
ax.text(5.9, 2.7, "FCDP", fontsize=15.5, ha="center", va="center", zorder=5)
ax.text(121, 2.7, "2DS", fontsize=15.5, ha="center", va="center")
notes(ax, ["7 flights", "30.34 h"], [10 ** -4.6, 10 ** -5.05])
legend_box(818, 1226, temps13, attrex_counts, colors13)

# ---------------- Row 3: CONTRAST ----------------
ax = px_axes(106.7, 873, 1500, 1981)
style(ax, (1, 1000))
ax.axhline(1.0, color="black", lw=2.0, zorder=1)
ax.axhline(0.01, color="black", lw=2.0, zorder=1)
ax.axvline(3.0, color="black", lw=1.2, zorder=1)
for xv in (50.2, 62.8):
    ax.axvline(xv, color="#888888", lw=1.2, ls=(0, (3, 3)), zorder=1)
for yc, y2, c in zip(contrast_cdp_y, contrast_2dc_y, colors10):
    series(ax, contrast_cdp_x, yc, c, LW_INST, MS_INST)
    series(ax, contrast_2dc_x, y2, c, LW_INST, MS_INST)
ax.text(5.45, 2.5, "CDP", fontsize=15.5, ha="center", va="center", color="#888888")
ax.text(121, 2.5, "2DC", fontsize=15.5, ha="center", va="center", color="#888888")
notes(ax, ["15 flights", "24.86 h"], [10 ** -4.61, 10 ** -5.01])

ax = px_axes(1072, 1834, 1502, 1982)
style(ax, (1, 1000))
ax.axhline(1.0, color="black", lw=1.2, zorder=1)
ax.axhline(0.01, color="black", lw=1.2, zorder=1)
for xv in (3.0, 55.7):
    ax.axvline(xv, color="black", lw=0.9, zorder=1)
for y, c in zip(contrast_sync_y, colors10):
    series(ax, sync_bins, y, c, LW_SYNC, MS_SYNC)
ax.text(5.5, 2.5, "CDP", fontsize=15.5, ha="center", va="center")
ax.text(122, 2.5, "2DC", fontsize=15.5, ha="center", va="center")
notes(ax, ["15 flights", "24.86 h"], [10 ** -4.6, 10 ** -5.04])
legend_box(1502, 1839, temps10, contrast_counts, colors10)

# ---------------- Titles ----------------
serif = ["Liberation Serif", "DejaVu Serif"]
fig.text(0.4735, 1 - 47 / H, "STRATOCLIM 2017", fontsize=49, ha="center", va="baseline",
         family=serif)
fig.text(0.4735, 1 - 106 / H, "Geophysica", fontsize=37, ha="center", va="baseline",
         family=serif)
fig.text(0.4735, 1 - 741 / H, "ATTREX 2014", fontsize=49, ha="center", va="baseline",
         family=serif)
fig.text(0.4735, 1 - 801 / H, "Global Hawk", fontsize=37, ha="center", va="baseline",
         family=serif)
fig.text(0.4735, 1 - 1424 / H, "CONTRAST 2014", fontsize=49, ha="center", va="baseline",
         family=serif)
fig.text(0.4735, 1 - 1483 / H, "G-5 HIAPER", fontsize=37, ha="center", va="baseline",
         family=serif)
fig.text(0.249, 1 - 2099 / H, "Instrument particle size bins", fontsize=37, ha="center",
         va="baseline", family=serif)
fig.text(0.705, 1 - 2099 / H, "Synchronized particle size bins", fontsize=37, ha="center",
         va="baseline", family=serif)

fig.savefig("out.png", dpi=100)
